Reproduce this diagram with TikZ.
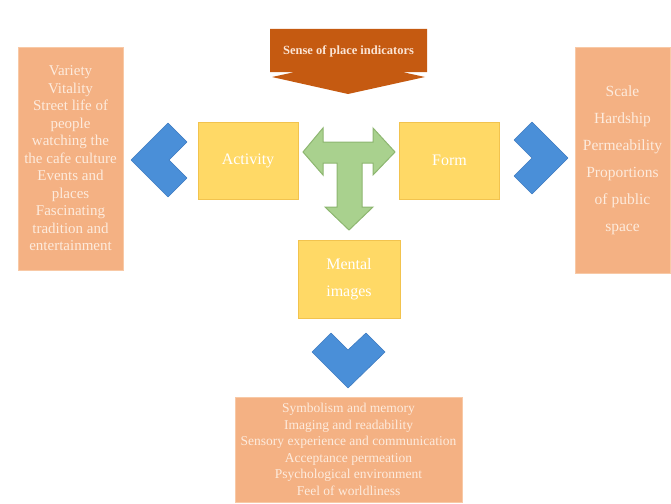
\documentclass[tikz,border=0pt]{standalone}
\usepackage{fontspec}
\setmainfont{Liberation Serif}
\definecolor{banner}{HTML}{C55A11}
\definecolor{bannertxt}{HTML}{FBE5D6}
\definecolor{yel}{HTML}{FFD966}
\definecolor{yeledge}{HTML}{F2C34E}
\definecolor{org}{HTML}{F4B183}
\definecolor{orgedge}{HTML}{F8C9A6}
\definecolor{boxtxt}{HTML}{FDEBDD}
\definecolor{chev}{HTML}{4A8FD8}
\definecolor{chevedge}{HTML}{3E7BC0}
\definecolor{grn}{HTML}{A9D18E}
\definecolor{grnedge}{HTML}{8DB670}
\tikzset{
  ybox/.style={draw=yeledge, line width=0.8pt, fill=yel, text=white, align=center, font=\fontsize{16}{27}\selectfont},
  obox/.style={draw=orgedge, line width=0.8pt, fill=org, text=boxtxt, align=center},
  chevron/.style={fill=chev, draw=chevedge, line width=0.6pt, line join=round},
  tarrow/.style={fill=grn, draw=grnedge, line width=1pt, line join=miter}
}
\begin{document}
\begin{tikzpicture}[x=1pt,y=-1pt]
\useasboundingbox (0,0) rectangle (671,503);
% banner
\fill[banner] (270,29) -- (427,29) -- (427,72) -- (402,72) -- (425,77) -- (348,94) -- (272,77) -- (295,72) -- (270,72) -- cycle;
\node[text=bannertxt, font=\bfseries\fontsize{12.5}{14}\selectfont] (sense) at (348.5,51) {Sense of place indicators};
% yellow boxes
\node[ybox, minimum width=100pt, minimum height=77pt] (activity) at (248,160.5) {Activity};
\node[ybox, minimum width=100pt, minimum height=77pt] (form) at (449.5,160.5) {Form};
\node[ybox, minimum width=102pt, minimum height=78pt] (mental) at (349,279) {Mental\\images};
% green T arrow
\draw[tarrow] (303,152) -- (323,128) -- (323,142) -- (373,142) -- (373,128) -- (395,152) -- (373,175) -- (373,163) -- (362,163) -- (362,207) -- (373,207) -- (349,230) -- (325,207) -- (337,207) -- (337,163) -- (323,163) -- (323,175) -- cycle;
% orange boxes
\node[obox, minimum width=105pt, minimum height=223pt, font=\fontsize{15}{17.5}\selectfont] (left) at (70.5,158.5)
  {Variety\\Vitality\\Street life of\\people\\watching the\\the cafe culture\\Events and\\places\\Fascinating\\tradition and\\entertainment};
\node[obox, minimum width=95pt, minimum height=226pt, font=\fontsize{15.5}{27}\selectfont] (right) at (622.5,160)
  {Scale\\Hardship\\Permeability\\Proportions\\of public\\space};
\node[obox, minimum width=227pt, minimum height=105pt, font=\fontsize{13.5}{16.5}\selectfont] (bottom) at (348.5,449.5)
  {Symbolism and memory\\Imaging and readability\\Sensory experience and communication\\Acceptance permeation\\Psychological environment\\Feel of worldliness};
% blue chevrons
\draw[chevron] (131,160) -- (168,123) -- (187,142) -- (169,160) -- (187,178) -- (168,197) -- cycle;
\draw[chevron] (568,158) -- (532,122) -- (514,140) -- (532,158) -- (514,176) -- (532,194) -- cycle;
\draw[chevron] (312,352) -- (331,333) -- (348,350) -- (366,333) -- (385,352) -- (348,388) -- cycle;
\end{tikzpicture}
\end{document}
